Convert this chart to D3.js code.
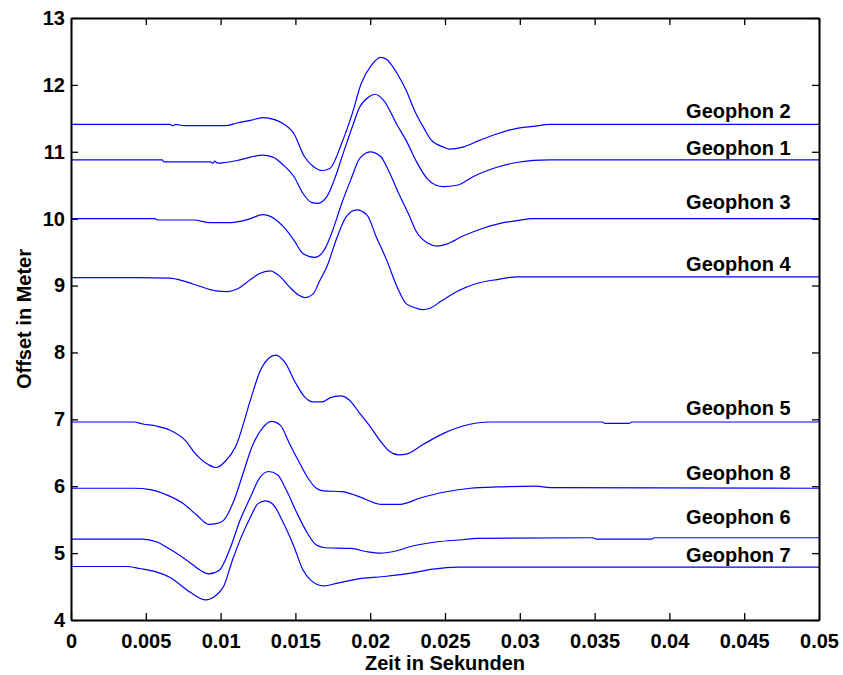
<!DOCTYPE html>
<html>
<head>
<meta charset="utf-8">
<script src="https://cdn.jsdelivr.net/npm/d3@7/dist/d3.min.js"></script>
<style>
  body { margin: 0; background: #fff; }
  text { font-family: "Liberation Sans", Arial, sans-serif; font-weight: bold; }
</style>
</head>
<body>
<svg id="vis"></svg>
<script>
  // time in seconds, offset in meter
  var geophon2 = [[0,11.41],[0.0066,11.41],[0.0068,11.39],[0.0070,11.41],[0.0075,11.39],[0.0103,11.39],[0.0111,11.43],[0.0120,11.47],[0.0128,11.51],[0.0136,11.48],[0.0141,11.43],[0.0149,11.27],[0.0156,10.93],[0.0162,10.78],[0.0168,10.72],[0.0173,10.75],[0.0181,11.13],[0.0188,11.57],[0.0194,12.02],[0.0201,12.30],[0.0207,12.41],[0.0211,12.38],[0.0218,12.17],[0.0224,11.92],[0.0230,11.60],[0.0236,11.35],[0.0241,11.17],[0.0249,11.07],[0.0253,11.04],[0.0262,11.07],[0.0273,11.17],[0.0285,11.27],[0.0298,11.35],[0.0309,11.38],[0.0320,11.41],[0.05,11.41]];
  var geophon1 = [[0,10.88],[0.0061,10.88],[0.0062,10.85],[0.0093,10.85],[0.0095,10.83],[0.0096,10.86],[0.0098,10.83],[0.0103,10.84],[0.0111,10.87],[0.0120,10.92],[0.0128,10.95],[0.0135,10.92],[0.0142,10.80],[0.0149,10.63],[0.0155,10.38],[0.0161,10.24],[0.0165,10.23],[0.0171,10.33],[0.0176,10.58],[0.0182,10.98],[0.0188,11.37],[0.0193,11.67],[0.0199,11.82],[0.0203,11.86],[0.0209,11.77],[0.0218,11.40],[0.0224,11.17],[0.0231,10.85],[0.0238,10.60],[0.0244,10.50],[0.0249,10.48],[0.0258,10.50],[0.0269,10.63],[0.0282,10.75],[0.0298,10.84],[0.0309,10.87],[0.0320,10.88],[0.05,10.88]];
  var geophon3 = [[0,10.00],[0.0056,10.00],[0.0058,9.98],[0.0082,9.98],[0.0093,9.94],[0.0106,9.94],[0.0113,9.96],[0.0120,10.00],[0.0128,10.06],[0.0136,10.00],[0.0142,9.88],[0.0149,9.68],[0.0155,9.48],[0.0163,9.42],[0.0170,9.56],[0.0175,9.83],[0.0181,10.23],[0.0187,10.58],[0.0193,10.90],[0.0200,11.00],[0.0207,10.93],[0.0212,10.73],[0.0219,10.38],[0.0226,10.05],[0.0231,9.80],[0.0238,9.64],[0.0245,9.59],[0.0251,9.62],[0.0262,9.74],[0.0276,9.86],[0.0289,9.94],[0.0298,9.97],[0.0309,10.00],[0.05,10.00]];
  var geophon4 = [[0,9.12],[0.0045,9.12],[0.0066,9.11],[0.0075,9.07],[0.0086,8.99],[0.0097,8.92],[0.0104,8.91],[0.0112,8.96],[0.0120,9.09],[0.0126,9.18],[0.0133,9.22],[0.0140,9.13],[0.0146,8.98],[0.0152,8.86],[0.0156,8.82],[0.0162,8.88],[0.0166,9.06],[0.0171,9.28],[0.0178,9.73],[0.0184,10.03],[0.0191,10.13],[0.0198,10.05],[0.0204,9.73],[0.0211,9.38],[0.0218,8.98],[0.0224,8.73],[0.0231,8.66],[0.0235,8.64],[0.0240,8.66],[0.0247,8.76],[0.0258,8.91],[0.0271,9.03],[0.0285,9.09],[0.0298,9.13],[0.05,9.13]];
  var geophon5 = [[0,6.96],[0.0042,6.96],[0.0048,6.93],[0.0057,6.90],[0.0066,6.84],[0.0077,6.67],[0.0083,6.49],[0.0092,6.32],[0.0097,6.28],[0.0103,6.37],[0.0110,6.59],[0.0120,7.29],[0.0126,7.70],[0.0132,7.91],[0.0137,7.96],[0.0143,7.85],[0.0150,7.55],[0.0156,7.34],[0.0162,7.26],[0.0168,7.26],[0.0173,7.32],[0.0180,7.35],[0.0186,7.29],[0.0193,7.09],[0.0200,6.89],[0.0207,6.67],[0.0213,6.52],[0.0219,6.47],[0.0224,6.48],[0.0235,6.62],[0.0249,6.79],[0.0262,6.90],[0.0280,6.96],[0.0355,6.96],[0.0357,6.94],[0.0373,6.94],[0.0375,6.96],[0.05,6.96]];
  var geophon8 = [[0,5.97],[0.0042,5.97],[0.0053,5.95],[0.0064,5.87],[0.0075,5.74],[0.0084,5.57],[0.0092,5.43],[0.0097,5.44],[0.0102,5.49],[0.0109,5.79],[0.0115,6.19],[0.0121,6.59],[0.0128,6.87],[0.0134,6.97],[0.0140,6.91],[0.0146,6.64],[0.0153,6.34],[0.0159,6.10],[0.0164,5.97],[0.0169,5.93],[0.0181,5.92],[0.0193,5.84],[0.0207,5.73],[0.0220,5.73],[0.0233,5.82],[0.0249,5.91],[0.0267,5.97],[0.0285,5.99],[0.0311,6.00],[0.0320,5.98],[0.05,5.97]];
  var geophon6 = [[0,5.21],[0.0048,5.21],[0.0057,5.17],[0.0066,5.06],[0.0080,4.85],[0.0086,4.75],[0.0092,4.69],[0.0099,4.74],[0.0106,5.05],[0.0113,5.49],[0.0120,5.84],[0.0126,6.12],[0.0132,6.22],[0.0138,6.17],[0.0144,5.94],[0.0151,5.60],[0.0158,5.30],[0.0164,5.12],[0.0170,5.08],[0.0187,5.07],[0.0198,5.02],[0.0207,5.00],[0.0215,5.02],[0.0229,5.11],[0.0245,5.17],[0.0262,5.20],[0.0271,5.22],[0.0349,5.23],[0.0351,5.21],[0.0388,5.21],[0.0390,5.23],[0.05,5.23]];
  var geophon7 = [[0,4.80],[0.0037,4.80],[0.0046,4.77],[0.0057,4.72],[0.0066,4.64],[0.0080,4.41],[0.0090,4.30],[0.0097,4.37],[0.0102,4.50],[0.0108,4.90],[0.0114,5.25],[0.0120,5.54],[0.0125,5.74],[0.0130,5.78],[0.0135,5.73],[0.0142,5.45],[0.0149,5.10],[0.0155,4.75],[0.0160,4.60],[0.0169,4.51],[0.0178,4.55],[0.0191,4.61],[0.0209,4.65],[0.0227,4.70],[0.0242,4.76],[0.0258,4.79],[0.05,4.79]];

  var traces = [geophon2, geophon1, geophon3, geophon4, geophon5, geophon8, geophon6, geophon7];
  var labels = ['Geophon 2', 'Geophon 1', 'Geophon 3', 'Geophon 4', 'Geophon 5', 'Geophon 8', 'Geophon 6', 'Geophon 7'];
  var labelY = [11.50, 10.95, 10.15, 9.22, 7.06, 6.10, 5.43, 4.86];
  var labelX = 0.0481;

  var xTicks = [0, 0.005, 0.01, 0.015, 0.02, 0.025, 0.03, 0.035, 0.04, 0.045, 0.05];
  var xTickLabels = ['0', '0.005', '0.01', '0.015', '0.02', '0.025', '0.03', '0.035', '0.04', '0.045', '0.05'];
  var yTicks = [4, 5, 6, 7, 8, 9, 10, 11, 12, 13];

  var svg = d3.select('#vis')
      .attr('width', 843)
      .attr('height', 675);

  svg.append('rect').attr('width', 843).attr('height', 675).attr('fill', '#fff');

  var xScale = d3.scaleLinear().domain([0, 0.05]).range([71, 819]);
  var yScale = d3.scaleLinear().domain([4, 13]).range([620, 18]);

  var line = d3.line()
      .x(function(d) { return xScale(d[0]); })
      .y(function(d) { return yScale(d[1]); })
      .curve(d3.curveMonotoneX);

  svg.selectAll('path.trace')
      .data(traces)
      .enter().append('path')
      .attr('class', 'trace')
      .attr('d', line)
      .attr('fill', 'none')
      .attr('stroke', '#0000ff')
      .attr('stroke-width', 1.2);

  // axes, ticks pointing inward like matlab
  var axBottom = svg.append('g').attr('transform', 'translate(0,620)')
      .call(d3.axisBottom(xScale).tickValues(xTicks)
          .tickFormat(function(d, i) { return xTickLabels[i]; })
          .tickSizeInner(-7).tickSizeOuter(0).tickPadding(14));
  var axTop = svg.append('g').attr('transform', 'translate(0,18)')
      .call(d3.axisTop(xScale).tickValues(xTicks).tickFormat('')
          .tickSizeInner(-7).tickSizeOuter(0));
  var axLeft = svg.append('g').attr('transform', 'translate(71,0)')
      .call(d3.axisLeft(yScale).tickValues(yTicks)
          .tickSizeInner(-7).tickSizeOuter(0).tickPadding(6));
  var axRight = svg.append('g').attr('transform', 'translate(819,0)')
      .call(d3.axisRight(yScale).tickValues(yTicks).tickFormat('')
          .tickSizeInner(-7).tickSizeOuter(0));

  [axBottom, axTop, axLeft, axRight].forEach(function(g) {
      g.select('.domain').attr('stroke', '#000').attr('stroke-width', 2);
      g.selectAll('.tick line').attr('stroke', '#000').attr('stroke-width', 1.3);
      g.selectAll('.tick text')
          .attr('fill', '#000')
          .style('font-size', '20px')
          .style('font-family', '"Liberation Sans", Arial, sans-serif')
          .style('font-weight', 'bold');
  });

  svg.selectAll('text.label')
      .data(labels)
      .enter().append('text')
      .attr('class', 'label')
      .attr('x', xScale(labelX))
      .attr('y', function(d, i) { return yScale(labelY[i]); })
      .attr('text-anchor', 'end')
      .style('font-size', '20px')
      .text(function(d) { return d; });

  svg.append('text')
      .attr('x', 445)
      .attr('y', 670)
      .attr('text-anchor', 'middle')
      .style('font-size', '20px')
      .text('Zeit in Sekunden');

  svg.append('text')
      .attr('transform', 'translate(31,319) rotate(-90)')
      .attr('text-anchor', 'middle')
      .style('font-size', '20px')
      .text('Offset in Meter');
</script>
</body>
</html>
